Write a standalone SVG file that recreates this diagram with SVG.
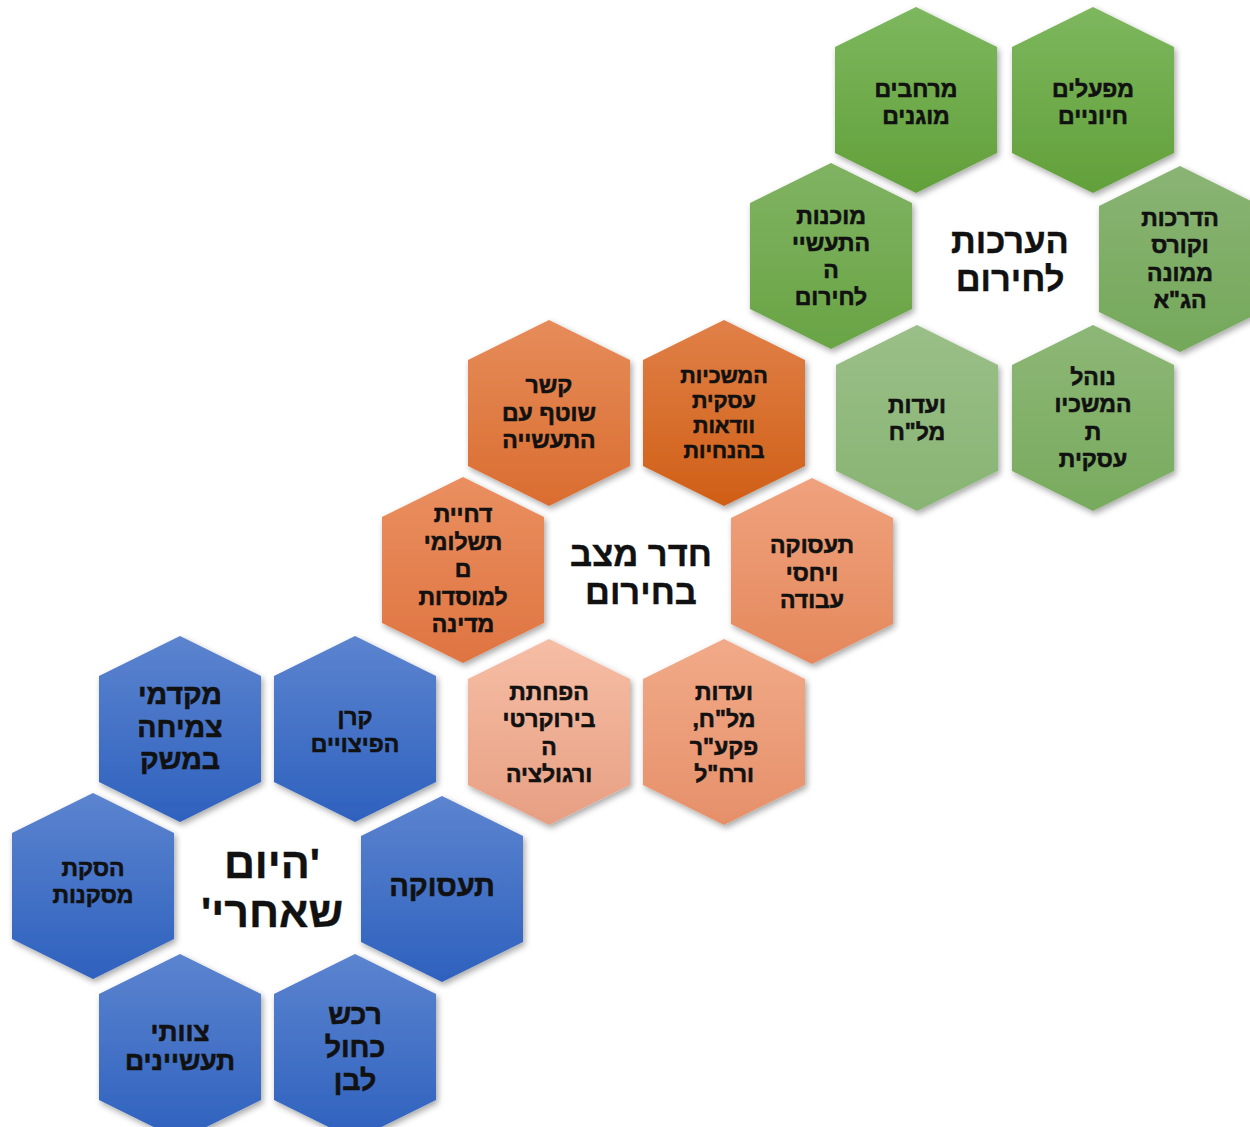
<svg xmlns="http://www.w3.org/2000/svg" xmlns:xlink="http://www.w3.org/1999/xlink" width="1250" height="1127" viewBox="0 0 1250 1127">
<defs>
<polygon id="hex" points="0,-93 81,-53 81,53 0,93 -81,53 -81,-53"/>
<filter id="sh" x="-20%" y="-20%" width="140%" height="140%">
<feDropShadow dx="2" dy="3" stdDeviation="3" flood-color="#000" flood-opacity="0.35"/>
</filter>
<linearGradient id="gA" x1="0" y1="0" x2="0" y2="1"><stop offset="0" stop-color="#7db75e"/><stop offset="1" stop-color="#62a03a"/></linearGradient>
<linearGradient id="gB" x1="0" y1="0" x2="0" y2="1"><stop offset="0" stop-color="#80b362"/><stop offset="1" stop-color="#69a445"/></linearGradient>
<linearGradient id="gC" x1="0" y1="0" x2="0" y2="1"><stop offset="0" stop-color="#8ab474"/><stop offset="1" stop-color="#74a85a"/></linearGradient>
<linearGradient id="gD" x1="0" y1="0" x2="0" y2="1"><stop offset="0" stop-color="#9abf88"/><stop offset="1" stop-color="#88b473"/></linearGradient>
<linearGradient id="gE" x1="0" y1="0" x2="0" y2="1"><stop offset="0" stop-color="#8db776"/><stop offset="1" stop-color="#78ab5e"/></linearGradient>
<linearGradient id="oA" x1="0" y1="0" x2="0" y2="1"><stop offset="0" stop-color="#e08048"/><stop offset="1" stop-color="#d05f16"/></linearGradient>
<linearGradient id="oB" x1="0" y1="0" x2="0" y2="1"><stop offset="0" stop-color="#e68c5a"/><stop offset="1" stop-color="#da6d30"/></linearGradient>
<linearGradient id="oC" x1="0" y1="0" x2="0" y2="1"><stop offset="0" stop-color="#ea8f60"/><stop offset="1" stop-color="#df7441"/></linearGradient>
<linearGradient id="oD" x1="0" y1="0" x2="0" y2="1"><stop offset="0" stop-color="#efa27d"/><stop offset="1" stop-color="#e5885c"/></linearGradient>
<linearGradient id="oE" x1="0" y1="0" x2="0" y2="1"><stop offset="0" stop-color="#f6bea5"/><stop offset="1" stop-color="#e79f83"/></linearGradient>
<linearGradient id="oF" x1="0" y1="0" x2="0" y2="1"><stop offset="0" stop-color="#f1aa88"/><stop offset="1" stop-color="#e6906a"/></linearGradient>
<linearGradient id="bA" x1="0" y1="0" x2="0" y2="1"><stop offset="0" stop-color="#5c84cf"/><stop offset="1" stop-color="#2e61be"/></linearGradient>
</defs>
<style>
.hx{filter:url(#sh);}
text{font-family:"Liberation Sans","DejaVu Sans",Arial,sans-serif;font-weight:bold;fill:#111;stroke:#111;stroke-width:0.6px;text-anchor:middle;direction:rtl;unicode-bidi:embed;}
.s{font-size:23px;}
.s20{font-size:21.5px;}
.m{font-size:26.5px;}
.t{font-size:29px;}
.l{font-size:28.5px;}
.c{font-size:34.5px;stroke-width:0.4px;}
.cb{font-size:43px;stroke-width:0.4px;}
</style>
<g id="connectors"></g>

<!-- Green cluster -->
<g id="g-mifalim"><use href="#hex" x="1093" y="100" fill="url(#gA)" class="hx"/><text class="s" x="1093" y="97">מפעלים</text><text class="s" x="1093" y="124">חיוניים</text></g>
<g id="g-merhavim"><use href="#hex" x="916" y="100" fill="url(#gA)" class="hx"/><text class="s" x="916" y="97">מרחבים</text><text class="s" x="916" y="124">מוגנים</text></g>
<g id="g-muchanut"><use href="#hex" x="831" y="256" fill="url(#gB)" class="hx"/><text class="s" x="831" y="224">מוכנות</text><text class="s" x="831" y="251">התעשיי</text><text class="s" x="831" y="278">ה</text><text class="s" x="831" y="305">לחירום</text></g>
<g id="g-hadrachot"><use href="#hex" x="1180" y="259" fill="url(#gC)" class="hx"/><text class="s" x="1180" y="226">הדרכות</text><text class="s" x="1180" y="253">וקורס</text><text class="s" x="1180" y="281">ממונה</text><text class="s" x="1180" y="308">הג"א</text></g>
<g id="g-vaadot"><use href="#hex" x="917" y="418" fill="url(#gD)" class="hx"/><text class="s" x="917" y="413">ועדות</text><text class="s" x="917" y="440">מל"ח</text></g>
<g id="g-nohal"><use href="#hex" x="1093" y="418" fill="url(#gE)" class="hx"/><text class="s" x="1093" y="385">נוהל</text><text class="s" x="1093" y="412">המשכיו</text><text class="s" x="1093" y="440">ת</text><text class="s" x="1093" y="467">עסקית</text></g>
<g id="g-center"><text class="c" x="1010" y="253">הערכות</text><text class="c" x="1010" y="291">לחירום</text></g>

<!-- Orange cluster -->
<g id="o-kesher"><use href="#hex" x="549" y="413" fill="url(#oB)" class="hx"/><text class="s" x="549" y="393">קשר</text><text class="s" x="549" y="421">שוטף עם</text><text class="s" x="549" y="448">התעשייה</text></g>
<g id="o-hemshechiut"><use href="#hex" x="724" y="413" fill="url(#oA)" class="hx"/><text class="s20" x="724" y="383">המשכיות</text><text class="s20" x="724" y="408">עסקית</text><text class="s20" x="724" y="433">וודאות</text><text class="s20" x="724" y="458">בהנחיות</text></g>
<g id="o-dchiyat"><use href="#hex" x="463" y="570" fill="url(#oC)" class="hx"/><text class="s" x="463" y="522">דחיית</text><text class="s" x="463" y="550">תשלומי</text><text class="s" x="463" y="577">ם</text><text class="s" x="463" y="605">למוסדות</text><text class="s" x="463" y="632">מדינה</text></g>
<g id="o-taasuka"><use href="#hex" x="812" y="571" fill="url(#oD)" class="hx"/><text class="s" x="812" y="553">תעסוקה</text><text class="s" x="812" y="581">ויחסי</text><text class="s" x="812" y="608">עבודה</text></g>
<g id="o-hafhatat"><use href="#hex" x="549" y="732" fill="url(#oE)" class="hx"/><text class="s" x="549" y="700">הפחתת</text><text class="s" x="549" y="727">בירוקרטי</text><text class="s" x="549" y="755">ה</text><text class="s" x="549" y="782">ורגולציה</text></g>
<g id="o-vaadot"><use href="#hex" x="724" y="732" fill="url(#oF)" class="hx"/><text class="s" x="724" y="700">ועדות</text><text class="s" x="724" y="727">מל"ח,</text><text class="s" x="724" y="755">פקע"ר</text><text class="s" x="724" y="782">ורח"ל</text></g>
<g id="o-center"><text class="c" x="641" y="566">חדר מצב</text><text class="c" x="641" y="604">בחירום</text></g>

<!-- Blue cluster -->
<g id="b-mekadmei"><use href="#hex" x="180" y="729" fill="url(#bA)" class="hx"/><text class="l" x="180" y="704">מקדמי</text><text class="l" x="180" y="737">צמיחה</text><text class="l" x="180" y="769">במשק</text></g>
<g id="b-keren"><use href="#hex" x="355" y="729" fill="url(#bA)" class="hx"/><text class="s" x="355" y="725">קרן</text><text class="s" x="355" y="752">הפיצויים</text></g>
<g id="b-hasakat"><use href="#hex" x="93" y="886" fill="url(#bA)" class="hx"/><text class="s" x="93" y="876">הסקת</text><text class="s" x="93" y="903">מסקנות</text></g>
<g id="b-taasuka"><use href="#hex" x="442" y="889" fill="url(#bA)" class="hx"/><text class="t" x="442" y="896">תעסוקה</text></g>
<g id="b-tzevetei"><use href="#hex" x="180" y="1047" fill="url(#bA)" class="hx"/><text class="m" x="180" y="1041">צוותי</text><text class="m" x="180" y="1070">תעשיינים</text></g>
<g id="b-rechesh"><use href="#hex" x="355" y="1047" fill="url(#bA)" class="hx"/><text class="l" x="355" y="1024">רכש</text><text class="l" x="355" y="1057">כחול</text><text class="l" x="355" y="1090">לבן</text></g>
<g id="b-center"><text class="cb" x="272" y="878">'היום</text><text class="cb" x="272" y="927">שאחרי'</text></g>
</svg>
